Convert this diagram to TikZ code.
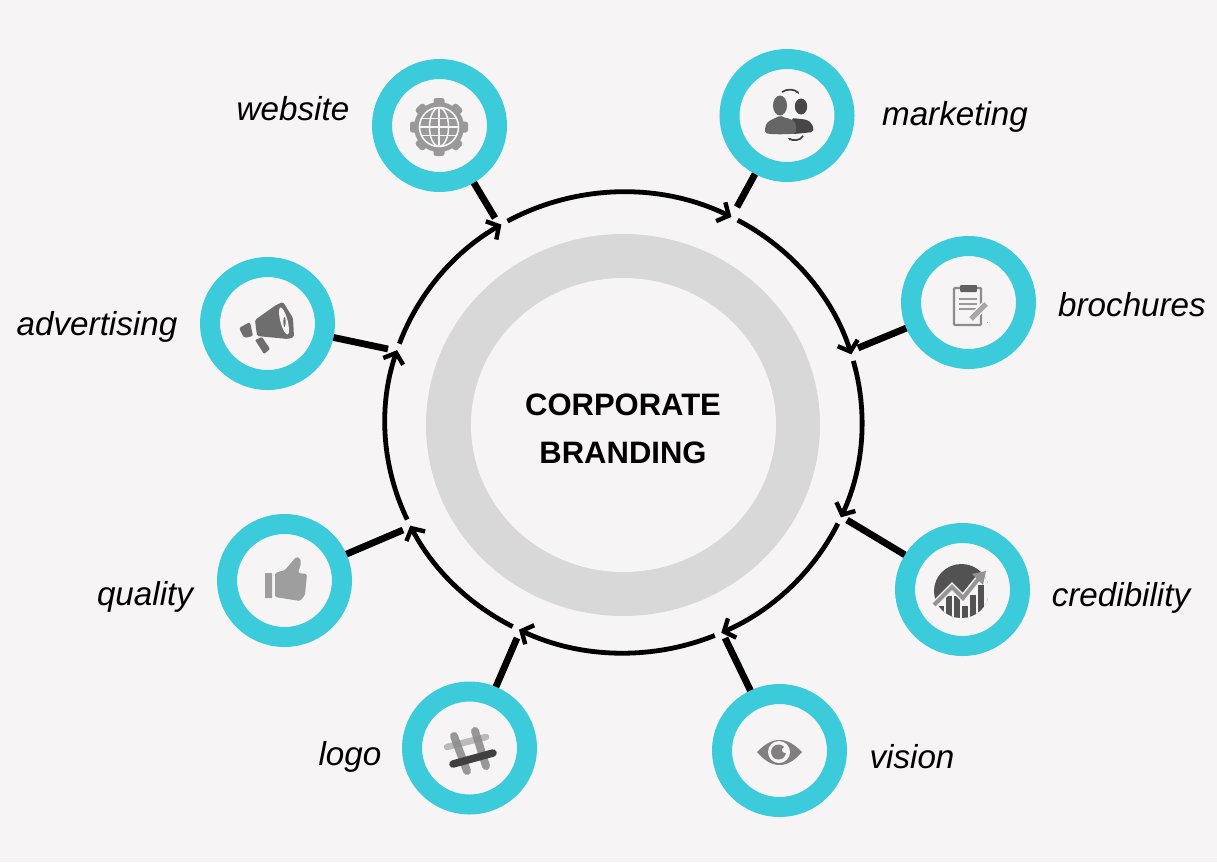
\documentclass[tikz,border=0pt]{standalone}
\usepackage{fontspec}
\setmainfont{Liberation Sans}
\usetikzlibrary{arrows.meta,shapes.geometric}
\definecolor{bgc}{HTML}{F6F4F5}
\definecolor{teal1}{HTML}{3CCBDA}
\definecolor{ringgray}{HTML}{D8D8D8}
\tikzset{
  ringnode/.style={ellipse,draw=teal1,line width=20pt,fill=bgc,minimum width=115pt,minimum height=113pt,inner sep=0pt},
  conn/.style={line width=6.8pt,black},
  ringarc/.style={line width=4.8pt,black,-{Straight Barb[length=9pt,width=21pt,line width=4.4pt]}},
  lab/.style={font=\fontsize{33.2}{36}\selectfont\itshape,text=black,inner sep=0pt},
  title/.style={font=\fontsize{31}{48}\selectfont\bfseries,align=center,text=black,inner sep=0pt},
}
\begin{document}
\begin{tikzpicture}[x=1pt,y=-1pt]
\useasboundingbox (0,0) rectangle (1217,862);
\fill[bgc] (0,0) rectangle (1217,862);
% centre ring
\node[ellipse,fill=ringgray,minimum width=394pt,minimum height=382pt,inner sep=0pt] (outerdisc) at (623,425) {};
\node[ellipse,fill=bgc,minimum width=305pt,minimum height=294pt,inner sep=0pt] (innerdisc) at (623.5,425) {};
\node[title] (centre) at (623,428.5) {CORPORATE\\BRANDING};
% big ring arcs
\foreach \s/\e in {198.3/239.2,239.2/296.9,296.9/342.8,-17.2/24.3,24.3/65.8,65.8/116,116/153.4,153.4/198.3}{
  \draw[ringarc] ({623.5+238.5*cos(\s+1.7)},{422.5+230.5*sin(\s+1.7)})
    arc[start angle={-(\s+1.7)},end angle={-\e},x radius=238.5pt,y radius=230.5pt];
}
% ring nodes
\node[ringnode] (website) at (439.5,125.5) {};
\node[ringnode] (marketing) at (787,115.5) {};
\node[ringnode] (brochures) at (968.5,302.5) {};
\node[ringnode] (credibility) at (962.5,589.5) {};
\node[ringnode] (vision) at (779.5,750.5) {};
\node[ringnode] (logo) at (469.5,748) {};
\node[ringnode] (quality) at (284.5,580.5) {};
\node[ringnode] (advertising) at (267.5,323.5) {};
% connector ends
\coordinate (ewebsite) at (495,218);
\coordinate (emarketing) at (737,207);
\coordinate (ebrochures) at (858,348);
\coordinate (ecredibility) at (847,520);
\coordinate (evision) at (725,638);
\coordinate (elogo) at (517,638);
\coordinate (equality) at (403,530);
\coordinate (eadvertising) at (388,349);
\foreach \n in {website,marketing,brochures,credibility,vision,logo,quality,advertising}{
  \draw[conn] (\n) -- (e\n);
}
% labels
\node[lab] (lwebsite) at (293,108.5) {website};
\node[lab] (lmarketing) at (955,116.5) {marketing};
\node[lab] (lbrochures) at (1132,304.5) {brochures};
\node[lab] (lcredibility) at (1121,598) {credibility};
\node[lab] (lvision) at (912,756.5) {vision};
\node[lab] (llogo) at (350,757) {logo};
\node[lab] (lquality) at (145,597) {quality};
\node[lab] (ladvertising) at (97,326.5) {advertising};
% --- icons ---
% gear globe
\foreach \a in {0,45,...,315}{
  \fill[black!40,rounded corners=2.5pt,shift={(439,127)},rotate=\a] (-5.5,-29) rectangle (5.5,-18);
}
\fill[black!40] (439,127) circle[radius=25];
\draw[bgc,line width=1.6pt] (439,127) circle[radius=19.5];
\begin{scope}
\clip (439,127) circle[radius=19.5];
\draw[bgc,line width=1.5pt] (439,127) ellipse[x radius=9.5,y radius=19.5];
\draw[bgc,line width=1.5pt] (439,107) -- (439,147);
\foreach \d in {-8.5,0,8.5}{\draw[bgc,line width=1.5pt] (419,127+\d) -- (459,127+\d);}
\end{scope}
% people
\fill[black!72,rounded corners=2pt] (792,134) -- (792,118) .. controls (800,119) and (807,119) .. (811,123) .. controls (813,126) and (813.5,129) .. (813,132) -- (800,133.5) -- cycle;
\fill[black!72] (801,106.5) ellipse[x radius=6.2,y radius=8];
\fill[black!60,rounded corners=2pt] (765,133) .. controls (765,127) and (766,123) .. (771,120) .. controls (775,118) and (778,117) .. (780,115) .. controls (784,118) and (790,118) .. (795,122) .. controls (796,126) and (796,130) .. (796,133.5) .. controls (785,134.5) and (772,134.5) .. (765,133) -- cycle;
\fill[black!60] (780,105.5) ellipse[x radius=7,y radius=10];
\draw[black!75,line width=1.7pt,-{Stealth[length=3pt]}] (782,92) .. controls (787,88.5) and (795,89) .. (799,94);
\draw[black!75,line width=1.7pt,-{Stealth[length=3pt]}] (803,136) .. controls (800,141) and (793,141) .. (788,138);
% megaphone
\fill[black!57,rounded corners=1.5pt] (255,320) -- (276,305) -- (283,302) -- (293,318) -- (294,337) -- (288,339) -- (257,336) -- cycle;
\fill[bgc,rotate around={15:(284,321)}] (284,321) ellipse[x radius=3.6,y radius=14];
\fill[black!57] (284.5,322) ellipse[x radius=1.2,y radius=5];
\fill[black!57,rounded corners=2pt] (239,328) -- (250,322) -- (253,336) -- (244,338) -- cycle;
\fill[black!57,rounded corners=1pt] (255,340) -- (262,337) -- (270,349) -- (264,354) -- cycle;
% clipboard
\draw[black!45,line width=2.4pt,rounded corners=1pt] (954,288) rectangle (981,325);
\fill[black!62,rounded corners=1pt] (960,285) rectangle (977,292);
\foreach \yy in {299,304,309}{\draw[black!40,line width=1.5pt] (959,\yy) -- (977,\yy);}
\draw[bgc,line width=8pt] (970,320) -- (986,304);
\draw[black!35,line width=5pt] (971,319) -- (986,304);
\fill[black!35] (986.5,321.5) rectangle (987.5,323);
% chart
\begin{scope}
\clip (961.5,591) ellipse[x radius=27.5,y radius=27];
\fill[black!68] (961.5,591) ellipse[x radius=27.5,y radius=27];
\fill[bgc] (930,610) -- (938,602) -- (952,590) -- (963,600) -- (980,578) -- (990,575) -- (990,625) -- (930,625) -- cycle;
\foreach \xx/\tp in {941/606,949/596,957/596,965/606,973/595,981/585}{\fill[black!68] (\xx-3,\tp) rectangle (\xx+3,620);}
\end{scope}
\draw[bgc,line width=7pt] (934,605) -- (952,587) -- (963,598) -- (980,577);
\draw[black!42,line width=4pt] (934,605) -- (952,587) -- (963,598) -- (980,577);
\fill[black!42] (986,571) -- (972,574) -- (983,585) -- cycle;
% eye
\fill[black!50] (757,752) .. controls (764,745) and (771,740) .. (779.5,740) .. controls (788,740) and (795,745) .. (802,752) .. controls (795,760) and (788,765) .. (779.5,765) .. controls (771,765) and (764,760) .. (757,752) -- cycle;
\fill[bgc] (779,752) circle[radius=11];
\fill[black!50] (778.5,752) circle[radius=7.5];
\fill[bgc] (785,750) circle[radius=3];
% hash
\begin{scope}[line cap=round,opacity=.55]
\draw[black!70,line width=8pt] (454,736) -- (467,771);
\draw[black!70,line width=8pt] (475,731) -- (486,766);
\draw[black!45,line width=6.5pt] (447,747) -- (486,737);
\end{scope}
\draw[black!75,line width=7.5pt,line cap=round] (453,764) -- (493,753);
% thumb
\fill[black!38,rounded corners=.5pt] (265,573) rectangle (272,598);
\fill[black!38,rounded corners=1.5pt] (275,573) -- (285,570) -- (296,557) -- (300,558) -- (301,563) -- (298,573) -- (307,574) -- (305,595) -- (300,601) -- (275,597) -- cycle;
\end{tikzpicture}
\end{document}
